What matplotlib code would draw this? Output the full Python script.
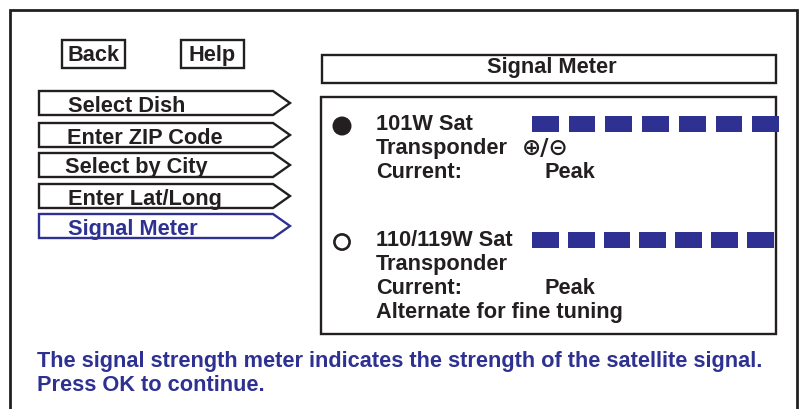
import matplotlib.pyplot as plt
from matplotlib.patches import Rectangle, Polygon, Circle

# =========================
# Screen content
# =========================
TOP_BUTTONS = ["Back", "Help"]
MENU_ITEMS = ["Select Dish", "Enter ZIP Code", "Select by City", "Enter Lat/Long", "Signal Meter"]
ACTIVE_ITEM = "Signal Meter"
PANEL_TITLE = "Signal Meter"

SATELLITES = ["101W Sat", "110/119W Sat"]
SAT_SELECTED = [True, False]
METER_SEGMENTS = [7, 7]  # lit segments per meter
SAT_LINES = [
    ["Transponder", "Current:"],
    ["Transponder", "Current:", "Alternate for fine tuning"],
]
PEAK_TEXT = "Peak"
ADJUST_SYMBOL = "\u2295/\u229d"
FOOTER = [
    "The signal strength meter indicates the strength of the satellite signal.",
    "Press OK to continue.",
]

# =========================
# Style
# =========================
W, H = 801, 409
INK = "#231f20"
BLUE = "#2e3192"
FONT = ["Liberation Sans", "DejaVu Sans"]
FS = 15.7
LW = 1.7
SEG_STEP = [36.7, 35.8]

fig = plt.figure(figsize=(W / 100, H / 100), dpi=100)
ax = fig.add_axes([0, 0, 1, 1])
ax.set_xlim(0, W)
ax.set_ylim(H, 0)
ax.axis("off")


def txt(x, y, s, color=INK, ha="left", **kw):
    ax.text(x, y, s, color=color, ha=ha, va="baseline", fontsize=FS,
            fontweight="bold", family=FONT, **kw)


# outer frame (open at the bottom)
ax.plot([10, 10, 797, 797], [H + 5, 10, 10, H + 5], color=INK, lw=2.0,
        solid_joinstyle="miter")

# Back / Help buttons
for x0, label in zip([62, 181], TOP_BUTTONS):
    ax.add_patch(Rectangle((x0, 40), 63, 28, fill=False, ec=INK, lw=LW))
    txt(x0 + 31.5, 61, label, ha="center")

# menu arrows
row_tops = [91, 123, 153, 184, 214]
text_x = [68, 67, 65, 68, 68]
for top, tx, item in zip(row_tops, text_x, MENU_ITEMS):
    col = BLUE if item == ACTIVE_ITEM else INK
    bot = top + 24
    pts = [(39, top), (273, top), (290, (top + bot) / 2), (273, bot), (39, bot)]
    ax.add_patch(Polygon(pts, closed=True, fill=False, ec=col, lw=LW,
                         joinstyle="miter"))
    txt(tx, bot - 3.5, item, color=col)

# panel title box
ax.add_patch(Rectangle((322, 55), 454, 28, fill=False, ec=INK, lw=LW))
txt(552, 73, PANEL_TITLE, ha="center")

# content box
ax.add_patch(Rectangle((321, 97), 455, 237, fill=False, ec=INK, lw=LW))

group_base = [130, 246]
for i, name in enumerate(SATELLITES):
    b = group_base[i]
    cy = b - 4
    if SAT_SELECTED[i]:
        ax.add_patch(Circle((342, cy), 8.8, fc=INK, ec=INK, lw=1))
    else:
        ax.add_patch(Circle((342, cy), 7.6, fc="white", ec=INK, lw=1.9))
    txt(376, b, name)
    for k, line in enumerate(SAT_LINES[i]):
        txt(376, b + 24 * (k + 1), line)
        if line == "Current:":
            txt(544, b + 24 * (k + 1), PEAK_TEXT)
    if i == 0:
        ax.text(522, b + 25, ADJUST_SYMBOL, color=INK, ha="left", va="baseline",
                fontsize=16.5, fontweight="bold", family=["DejaVu Sans"])
    # meter segments
    for s in range(METER_SEGMENTS[i]):
        x0 = 532 + s * SEG_STEP[i]
        ax.add_patch(Rectangle((x0, cy - 10.5), 26.7, 16, fc=BLUE, ec="none"))

# footer
for k, line in enumerate(FOOTER):
    txt(37, 367 + 24 * k, line, color=BLUE)

fig.savefig("out.png", dpi=100, facecolor="white")
